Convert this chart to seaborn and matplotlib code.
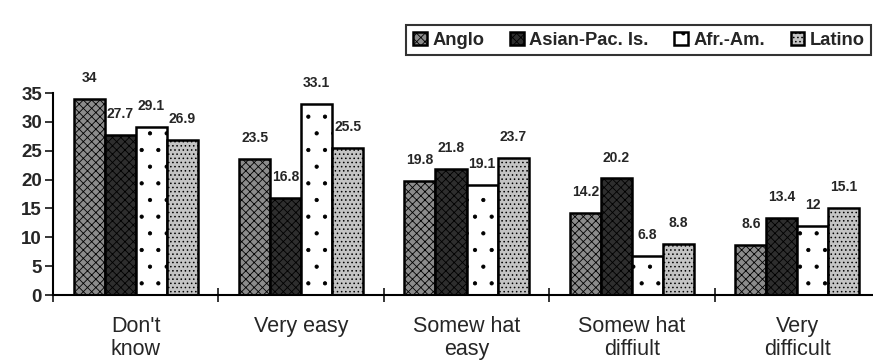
import matplotlib
matplotlib.use("Agg")
import matplotlib.pyplot as plt
import seaborn as sns
import pandas as pd

categories = ["Don't\nknow", "Very easy", "Somew hat\neasy", "Somew hat\ndiffiult", "Very\ndifficult"]
groups = ["Anglo", "Asian-Pac. Is.", "Afr.-Am.", "Latino"]
anglo = [34, 23.5, 19.8, 14.2, 8.6]
asian_pac = [27.7, 16.8, 21.8, 20.2, 13.4]
afr_am = [29.1, 33.1, 19.1, 6.8, 12]
latino = [26.9, 25.5, 23.7, 8.8, 15.1]
yticks = [0, 5, 10, 15, 20, 25, 30, 35]

series = [anglo, asian_pac, afr_am, latino]
rows = []
for g, vals in zip(groups, series):
    for c, v in zip(categories, vals):
        rows.append({"cat": c, "group": g, "val": v})
df = pd.DataFrame(rows)

sns.set_style("white")
plt.rcParams['font.family'] = ['Liberation Sans', 'DejaVu Sans']
plt.rcParams['hatch.linewidth'] = 0.6

fig = plt.figure(figsize=(8.73, 3.63), dpi=100)
ax = fig.add_axes([53 / 873, 68 / 363, 827 / 873, 202 / 363])

sns.barplot(data=df, x="cat", y="val", hue="group", order=categories,
            hue_order=groups, width=0.75, ax=ax, errorbar=None, legend=False)

faces = ["#8c8c8c", "#2e2e2e", "#ffffff", "#c4c4c4"]
hatches = ["xxxx", "xxxx", ".", "...."]
for cont, fc, h in zip(ax.containers, faces, hatches):
    for p in cont.patches:
        p.set_facecolor(fc)
        p.set_edgecolor("black")
        p.set_linewidth(1.8)
        p.set_hatch(h)

for cont, vals in zip(ax.containers, series):
    ax.bar_label(cont, labels=[f"{v:g}" for v in vals], padding=10,
                 fontsize=10, fontweight="bold",
                 family=['Liberation Sans Narrow', 'Liberation Sans', 'DejaVu Sans'],
                 clip_on=False)

ax.set_ylim(0, 35)
ax.set_xlim(-0.5, len(categories) - 0.5)
ax.set_yticks(yticks)
ax.set_yticklabels([str(t) for t in yticks], fontsize=13.5, fontweight="bold")
ax.tick_params(axis="y", direction="out", length=6, width=1.3, left=True, pad=2)

ax.set_xticks([i - 0.5 for i in range(len(categories) + 1)])
ax.set_xticklabels([])
ax.tick_params(axis="x", which="major", direction="inout", length=10, width=1.3, bottom=True)
ax.set_xticks(range(len(categories)), minor=True)
ax.set_xticklabels(categories, minor=True, fontsize=15.5, linespacing=1.15)
ax.tick_params(axis="x", which="minor", length=0, pad=15)

ax.set_xlabel("")
ax.set_ylabel("")
for s in ["top", "right"]:
    ax.spines[s].set_visible(False)
for s in ["left", "bottom"]:
    ax.spines[s].set_linewidth(1.5)
    ax.spines[s].set_color("black")

leg = fig.legend(handles=ax.containers, labels=groups, loc="upper right",
                 bbox_to_anchor=(0.998, 0.93), ncol=4, frameon=True,
                 fancybox=False, handlelength=0.75, handleheight=0.75,
                 handletextpad=0.3, columnspacing=1.4, borderpad=0.35,
                 borderaxespad=0.0, prop={"weight": "bold", "size": 13.2})
leg.get_frame().set_edgecolor("black")
leg.get_frame().set_linewidth(1.5)

fig.savefig("out.png", dpi=100)
